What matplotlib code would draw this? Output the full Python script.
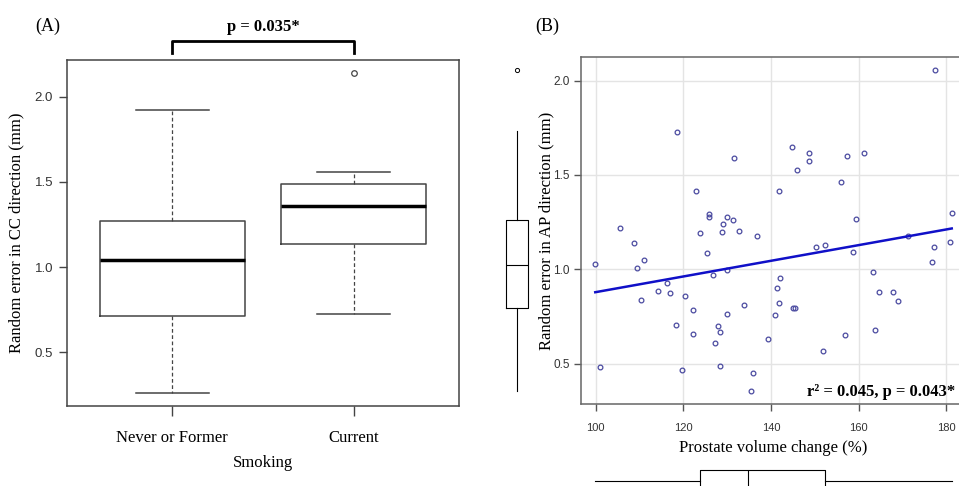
import numpy as np
import matplotlib
matplotlib.use("Agg")
import matplotlib.pyplot as plt
import matplotlib.transforms as mtransforms

SERIF = "Liberation Serif"
SANS = "Liberation Sans"

# (A) smoking box plot summary
smoking_groups = ["Never or Former", "Current"]
cc_q1 = [0.711, 1.133]
cc_median = [1.04, 1.36]
cc_q3 = [1.273, 1.487]
cc_whislo = [0.26, 0.724]
cc_whishi = [1.924, 1.56]
cc_outliers = [[], [2.14]]
p_smoking = "p = 0.035*"

# (B) prostate volume change vs AP random error
vol_change = [177.3, 118.6, 144.8, 148.7, 148.7, 145.8, 157.4, 161.2, 131.6, 155.9,
              122.8, 141.9, 181.2, 125.9, 125.9, 130.0, 131.4, 129.0, 159.4, 105.6,
              123.7, 128.7, 132.6, 136.8, 108.8, 150.2, 152.4, 180.9, 177.1, 171.2,
              125.3, 158.7, 99.9, 111.0, 109.5, 176.7, 126.8, 129.9, 163.2, 116.2,
              114.3, 117.0, 110.3, 120.4, 142.1, 141.4, 141.9, 133.9, 145.0, 145.5,
              164.7, 167.8, 168.9, 122.1, 130.0, 140.8, 118.4, 127.9, 128.3, 122.1,
              163.6, 156.8, 127.2, 139.4, 151.8, 101.0, 119.7, 128.4, 135.9, 135.4]
ap_error = [2.055, 1.730, 1.650, 1.617, 1.574, 1.528, 1.601, 1.617, 1.592, 1.461,
            1.415, 1.415, 1.297, 1.295, 1.278, 1.278, 1.263, 1.242, 1.267, 1.221,
            1.193, 1.198, 1.205, 1.175, 1.138, 1.120, 1.127, 1.145, 1.117, 1.175,
            1.085, 1.094, 1.030, 1.051, 1.009, 1.039, 0.972, 0.997, 0.984, 0.931,
            0.887, 0.875, 0.838, 0.857, 0.954, 0.900, 0.825, 0.811, 0.795, 0.795,
            0.880, 0.880, 0.834, 0.783, 0.762, 0.758, 0.707, 0.703, 0.670, 0.661,
            0.679, 0.652, 0.610, 0.631, 0.567, 0.484, 0.467, 0.488, 0.451, 0.357]
fit_at_100 = 0.880
fit_slope = 0.00415
fit_text = "r² = 0.045, p = 0.043*"

# marginal box plots in (B)
ap_box = dict(whislo=0.356, q1=0.797, med=1.026, q3=1.263, whishi=1.731, fliers=[2.055])
vol_box = dict(whislo=99.8, q1=123.7, med=134.7, q3=152.3, whishi=181.3, fliers=[])

W, H = 959, 486
fig = plt.figure(figsize=(W / 100, H / 100), dpi=100)


def box(l, t, w, h):
    return [l / W, (H - t - h) / H, w / W, h / H]


def padded(lo, hi, f=0.04):
    r = hi - lo
    return lo - f * r, hi + f * r


# ---------------- panel A ----------------
axA = fig.add_axes(box(67, 60, 392, 346))
stats = []
for i in range(2):
    stats.append(dict(med=cc_median[i], q1=cc_q1[i], q3=cc_q3[i],
                      whislo=cc_whislo[i], whishi=cc_whishi[i], fliers=cc_outliers[i]))
gray = "#444444"
axA.bxp(stats, positions=[1, 2], widths=0.8, capwidths=0.4,
        boxprops=dict(color=gray, lw=1.1),
        medianprops=dict(color="black", lw=2.5, solid_capstyle="butt"),
        whiskerprops=dict(color=gray, lw=0.9, linestyle=(0, (3, 2))),
        capprops=dict(color=gray, lw=1.1),
        flierprops=dict(marker="o", mfc="none", mec=gray, ms=4, mew=0.9))
all_a = cc_whislo + cc_whishi + [v for o in cc_outliers for v in o]
axA.set_ylim(*padded(min(all_a), max(all_a)))
axA.set_xlim(0.42, 2.58)
axA.set_yticks([0.5, 1.0, 1.5, 2.0])
axA.set_yticklabels(["0.5", "1.0", "1.5", "2.0"], fontfamily=SANS, fontsize=9.5, color="#333333")
axA.set_xticks([1, 2])
axA.set_xticklabels(smoking_groups, fontfamily=SERIF, fontsize=12)
axA.tick_params(axis="y", length=6, width=1, color=gray, pad=4)
axA.tick_params(axis="x", length=7, width=1, color=gray, pad=10)
for s in axA.spines.values():
    s.set_color(gray)
    s.set_linewidth(1.1)
axA.set_ylabel("Random error in CC direction (mm)", fontfamily=SERIF, fontsize=12)
axA.yaxis.set_label_coords(-0.108, 0.5)
axA.set_xlabel("Smoking", fontfamily=SERIF, fontsize=12)
axA.xaxis.set_label_coords(0.5, -0.143)

trA = mtransforms.blended_transform_factory(axA.transData, axA.transAxes)
axA.plot([1, 1, 2, 2], [1.020, 1.056, 1.056, 1.020], color="black", lw=2,
         transform=trA, clip_on=False)
axA.text(1.5, 1.094, p_smoking, transform=trA, ha="center", va="center",
         fontfamily=SERIF, fontsize=12, fontweight="bold")

fig.text(48 / W, 1 - 26 / H, "(A)", ha="center", va="center", fontfamily=SERIF, fontsize=13)
fig.text(547 / W, 1 - 26 / H, "(B)", ha="center", va="center", fontfamily=SERIF, fontsize=13)

# ---------------- panel B ----------------
axB = fig.add_axes(box(581, 57.3, 385, 346.5))
xlo, xhi = padded(min(vol_change), max(vol_change))
ylo, yhi = padded(min(ap_error), max(ap_error))
axB.set_xlim(xlo, xhi)
axB.set_ylim(ylo, yhi)
axB.grid(True, color="#e4e4e4", lw=1)
axB.set_axisbelow(True)
axB.plot(vol_change, ap_error, "o", ls="none", ms=3.4, mfc="none", mec="#4a4aa0", mew=0.9)
lx = np.array([min(vol_change), max(vol_change)])
axB.plot(lx, fit_at_100 + fit_slope * (lx - 100), color="#1010c8", lw=1.8)
axB.set_xticks([100, 120, 140, 160, 180])
axB.set_yticks([0.5, 1.0, 1.5, 2.0])
axB.set_yticklabels(["0.5", "1.0", "1.5", "2.0"])
for lab in axB.get_xticklabels():
    lab.set_fontfamily(SANS)
    lab.set_fontsize(8)
    lab.set_color("#333333")
for lab in axB.get_yticklabels():
    lab.set_fontfamily(SANS)
    lab.set_fontsize(8.5)
    lab.set_color("#333333")
axB.tick_params(axis="both", length=5, width=1, color="#555555")
axB.tick_params(axis="x", pad=8.5)
axB.tick_params(axis="y", pad=3)
for s in axB.spines.values():
    s.set_color("#666666")
    s.set_linewidth(1.1)
axB.set_ylabel("Random error in AP direction (mm)", fontfamily=SERIF, fontsize=12)
axB.yaxis.set_label_coords(-0.070, 0.5)
axB.set_xlabel("Prostate volume change (%)", fontfamily=SERIF, fontsize=12)
axB.xaxis.set_label_coords(0.5, -0.104)
axB.text(955, 391.7, fit_text, transform=mtransforms.Affine2D().scale(1, -1).translate(0, H)
         + mtransforms.IdentityTransform(), ha="right", va="center",
         fontfamily=SERIF, fontsize=12, fontweight="bold")

# marginal box plots
mprops = dict(boxprops=dict(color="black", lw=0.8),
              medianprops=dict(color="black", lw=0.8),
              whiskerprops=dict(color="black", lw=0.8),
              flierprops=dict(marker="o", mfc="none", mec="black", ms=3, mew=0.7))

axL = fig.add_axes(box(497, 57.3, 40, 346.5), sharey=axB)
axL.bxp([ap_box], positions=[0], widths=1.1, showcaps=False, **mprops)
axL.set_xlim(-1, 1)
axL.axis("off")

axD = fig.add_axes(box(581, 461, 385, 40), sharex=axB)
axD.bxp([vol_box], positions=[0], widths=1.1, showcaps=False,
        orientation="horizontal", **mprops)
axD.set_ylim(-1, 1)
axD.axis("off")

fig.savefig("out.png", dpi=100)
